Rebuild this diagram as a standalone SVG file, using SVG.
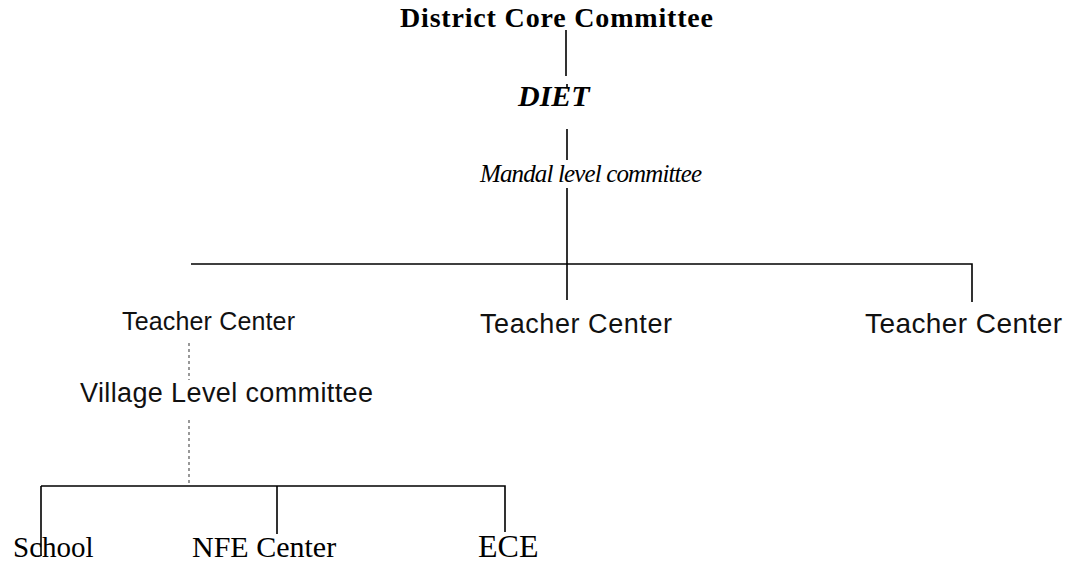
<svg xmlns="http://www.w3.org/2000/svg" width="1079" height="564" viewBox="0 0 1079 564">
<style>
.t{font-family:"Liberation Serif",serif;fill:#000}
.s{font-family:"Liberation Sans",sans-serif;fill:#111}
.c{stroke:#000;stroke-width:1.6;fill:none}
.d{stroke:#555;stroke-width:1.2;fill:none;stroke-dasharray:3 3}
</style>
<rect width="1079" height="564" fill="#fff"/>
<g id="connectors">
<path class="c" d="M566 30V76M567 84V88M567 129V160M567 188V300M191 264H972V302"/>
<path class="d" d="M189 343V380M189 420V486"/>
<path class="c" d="M41 486H505V532M41 486V556M277 486V534"/>
</g>
<g id="n-district"><text class="t" x="400" y="27" font-size="28" font-weight="bold" textLength="313">District Core Committee</text></g>
<g id="n-diet"><text class="t" x="518" y="106" font-size="30" font-weight="bold" font-style="italic">DIET</text></g>
<g id="n-mandal"><text class="t" x="480" y="182" font-size="25" font-style="italic" textLength="222">Mandal level committee</text></g>
<g id="n-tc1"><text class="s" x="122" y="330" font-size="25" textLength="173">Teacher Center</text></g>
<g id="n-tc2"><text class="s" x="480" y="333" font-size="27" textLength="192">Teacher Center</text></g>
<g id="n-tc3"><text class="s" x="865" y="333" font-size="28" textLength="197">Teacher Center</text></g>
<g id="n-village"><text class="s" x="80" y="402" font-size="27" textLength="293">Village Level committee</text></g>
<g id="n-school"><text class="t" x="13" y="557" font-size="29">School</text></g>
<g id="n-nfe"><text class="t" x="192" y="557" font-size="30">NFE Center</text></g>
<g id="n-ece"><text class="t" x="478" y="557" font-size="32">ECE</text></g>
</svg>
